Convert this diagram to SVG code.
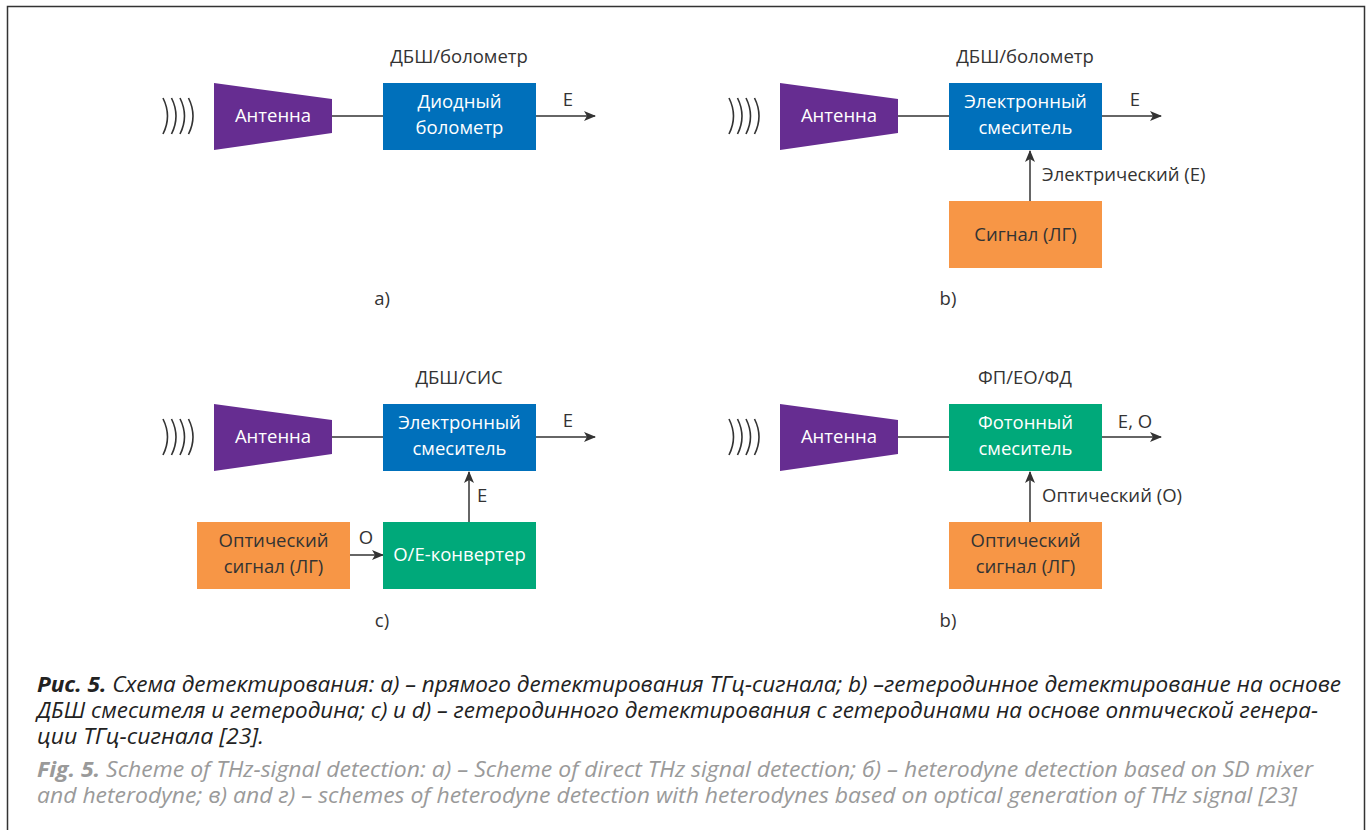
<svg xmlns="http://www.w3.org/2000/svg" width="1368" height="830" viewBox="0 0 1368 830">
<defs>
<style>
.t{font-family:"Open Sans","Noto Sans",sans-serif;font-size:18.5px;fill:#333}
.w{font-family:"Open Sans","Noto Sans",sans-serif;font-size:18.5px;fill:#fff;text-anchor:middle}
.c{text-anchor:middle}
.ant{fill:#662d91}
.blue{fill:#0070bb}
.green{fill:#00a97a}
.orange{fill:#f79646}
.ln{stroke:#333;stroke-width:1.5;fill:none}
.wave{stroke:#333;stroke-width:1.6;fill:none}
.cap{font-family:"Open Sans","Noto Sans",sans-serif;font-size:21px;font-style:italic;fill:#222}
.capg{font-family:"Open Sans","Noto Sans",sans-serif;font-size:21px;font-style:italic;fill:#9a9a9a}
</style>
<marker id="ah" markerWidth="12" markerHeight="10" refX="11" refY="5" orient="auto" markerUnits="userSpaceOnUse">
<path d="M0,0 L12,5 L0,10 L3,5 Z" fill="#333"/>
</marker>
<g id="waves">
<path class="wave" d="M0,-18 Q9,0 0,18"/>
<path class="wave" d="M8.5,-18 Q17.5,0 8.5,18"/>
<path class="wave" d="M17,-18 Q26,0 17,18"/>
<path class="wave" d="M25.5,-18 Q34.5,0 25.5,18"/>
</g>
</defs>
<rect x="7.5" y="6.5" width="1357" height="840" fill="none" stroke="#333" stroke-width="1.5"/>

<g id="connectors">
<line class="ln" x1="332" y1="116" x2="383" y2="116"/>
<line class="ln" x1="536" y1="116" x2="595" y2="116" marker-end="url(#ah)"/>
<line class="ln" x1="898" y1="116" x2="949" y2="116"/>
<line class="ln" x1="1102" y1="116" x2="1161" y2="116" marker-end="url(#ah)"/>
<line class="ln" x1="1030" y1="201" x2="1030" y2="151" marker-end="url(#ah)"/>
<line class="ln" x1="332" y1="437" x2="383" y2="437"/>
<line class="ln" x1="536" y1="437" x2="595" y2="437" marker-end="url(#ah)"/>
<line class="ln" x1="469" y1="522" x2="469" y2="472" marker-end="url(#ah)"/>
<line class="ln" x1="350" y1="555" x2="383" y2="555" marker-end="url(#ah)"/>
<line class="ln" x1="898" y1="437" x2="949" y2="437"/>
<line class="ln" x1="1102" y1="437" x2="1161" y2="437" marker-end="url(#ah)"/>
<line class="ln" x1="1030" y1="522" x2="1030" y2="472" marker-end="url(#ah)"/>
<text class="t c" x="568" y="106">E</text>
<text class="t c" x="1135" y="106">E</text>
<text class="t" x="1042" y="181">Электрический (E)</text>
<text class="t c" x="568" y="427">E</text>
<text class="t" x="477" y="502">E</text>
<text class="t c" x="366" y="544">O</text>
<text class="t c" x="1135" y="428">E, O</text>
<text class="t" x="1042" y="502">Оптический (O)</text>
</g>

<g id="panel-a">
<use href="#waves" x="163" y="116"/>
<text class="t c" x="459" y="63">ДБШ/болометр</text>
<g id="a-antenna"><polygon class="ant" points="214,83 332,99 332,133 214,150"/><text class="w" x="273" y="122">Антенна</text></g>
<g id="a-bolometer"><rect class="blue" x="383" y="83" width="153" height="67"/><text class="w" x="459.5" y="108">Диодный</text><text class="w" x="459.5" y="134">болометр</text></g>
<text class="t c" x="382" y="305">a)</text>
</g>

<g id="panel-b">
<use href="#waves" x="729" y="116"/>
<text class="t c" x="1025" y="63">ДБШ/болометр</text>
<g id="b-antenna"><polygon class="ant" points="780,83 898,99 898,133 780,150"/><text class="w" x="839" y="122">Антенна</text></g>
<g id="b-mixer"><rect class="blue" x="949" y="83" width="153" height="67"/><text class="w" x="1025.5" y="108">Электронный</text><text class="w" x="1025.5" y="134">смеситель</text></g>
<g id="b-signal"><rect class="orange" x="949" y="201" width="153" height="67"/><text class="t c" x="1025.5" y="241">Сигнал (ЛГ)</text></g>
<text class="t c" x="948" y="305">b)</text>
</g>

<g id="panel-c">
<use href="#waves" x="163" y="437"/>
<text class="t c" x="459" y="384">ДБШ/СИС</text>
<g id="c-antenna"><polygon class="ant" points="214,404 332,420 332,454 214,471"/><text class="w" x="273" y="443">Антенна</text></g>
<g id="c-mixer"><rect class="blue" x="383" y="404" width="153" height="67"/><text class="w" x="459.5" y="429">Электронный</text><text class="w" x="459.5" y="455">смеситель</text></g>
<g id="c-optical"><rect class="orange" x="197" y="522" width="153" height="67"/><text class="t c" x="273.5" y="547">Оптический</text><text class="t c" x="273.5" y="573">сигнал (ЛГ)</text></g>
<g id="c-converter"><rect class="green" x="383" y="522" width="153" height="67"/><text class="w" x="459.5" y="561">O/E-конвертер</text></g>
<text class="t c" x="382" y="627">c)</text>
</g>

<g id="panel-d">
<use href="#waves" x="729" y="437"/>
<text class="t c" x="1025" y="384">ФП/ЕО/ФД</text>
<g id="d-antenna"><polygon class="ant" points="780,404 898,420 898,454 780,471"/><text class="w" x="839" y="443">Антенна</text></g>
<g id="d-mixer"><rect class="green" x="949" y="404" width="153" height="67"/><text class="w" x="1025.5" y="429">Фотонный</text><text class="w" x="1025.5" y="455">смеситель</text></g>
<g id="d-optical"><rect class="orange" x="949" y="522" width="153" height="67"/><text class="t c" x="1025.5" y="547">Оптический</text><text class="t c" x="1025.5" y="573">сигнал (ЛГ)</text></g>
<text class="t c" x="948" y="627">b)</text>
</g>

<g id="caption">
<text class="cap" x="37" y="692" textLength="1304" lengthAdjust="spacingAndGlyphs"><tspan font-weight="bold">Рис. 5.</tspan> Схема детектирования: a) – прямого детектирования ТГц-сигнала; b) –гетеродинное детектирование на основе</text>
<text class="cap" x="37" y="718" textLength="1281" lengthAdjust="spacingAndGlyphs">ДБШ смесителя и гетеродина; c) и d) – гетеродинного детектирования с гетеродинами на основе оптической генера-</text>
<text class="cap" x="37" y="744" textLength="227" lengthAdjust="spacingAndGlyphs">ции ТГц-сигнала [23].</text>
<text class="capg" x="37" y="777" textLength="1276" lengthAdjust="spacingAndGlyphs"><tspan font-weight="bold">Fig. 5.</tspan> Scheme of THz-signal detection: a) – Scheme of direct THz signal detection; б) – heterodyne detection based on SD mixer</text>
<text class="capg" x="37" y="803" textLength="1260" lengthAdjust="spacingAndGlyphs">and heterodyne; в) and г) – schemes of heterodyne detection with heterodynes based on optical generation of THz signal [23]</text>
</g>
</svg>
